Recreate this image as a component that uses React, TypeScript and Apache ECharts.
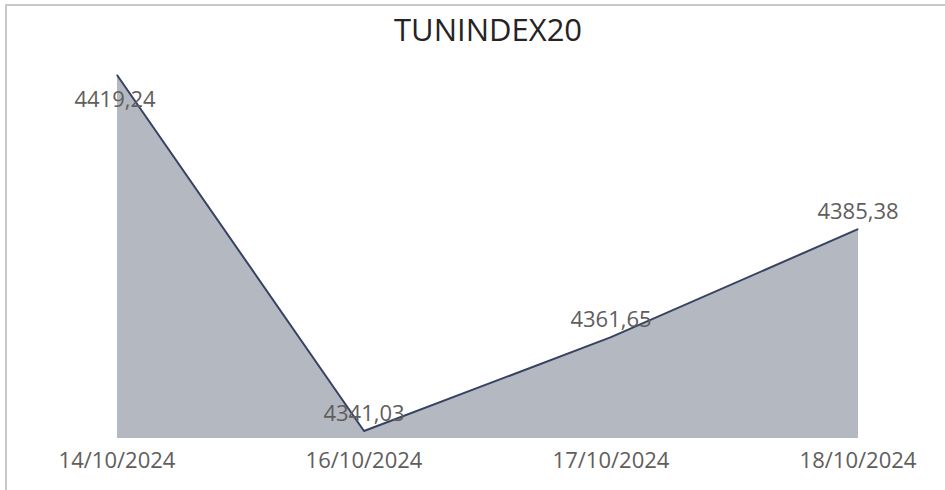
import React, { useEffect, useRef } from "react";
import * as echarts from "echarts";

const categories = ["14/10/2024", "16/10/2024", "17/10/2024", "18/10/2024"];
const values = [4419.24, 4341.03, 4361.65, 4385.38];
const labelPositions = ["bottom", "top", "top", "top"];

const fmt = (v: number) => v.toFixed(2).replace(".", ",");

export default function App() {
  const ref = useRef<HTMLDivElement>(null);
  useEffect(() => {
    if (!ref.current) return;
    const chart = echarts.init(ref.current, null, { renderer: "svg" });
    const font = "'Open Sans', 'Noto Sans', sans-serif";
    chart.setOption({
      animation: false,
      backgroundColor: "#ffffff",
      title: {
        text: "TUNINDEX20",
        left: 389,
        top: 8,
        textStyle: { fontFamily: font, fontSize: 31, fontWeight: "normal", color: "#252423" },
      },
      graphic: [
        { type: "line", shape: { x1: 5, y1: 5, x2: 945, y2: 5 }, style: { stroke: "#c8c8c8", lineWidth: 2 } },
        { type: "line", shape: { x1: 6, y1: 4, x2: 6, y2: 490 }, style: { stroke: "#c8c8c8", lineWidth: 2 } },
      ],
      grid: { left: 117, right: 87, top: 75, bottom: 52 },
      xAxis: {
        type: "category",
        data: categories,
        boundaryGap: false,
        axisLine: { show: false },
        axisTick: { show: false },
        axisLabel: { fontFamily: font, fontSize: 22, color: "#605e5c", margin: 10 },
      },
      yAxis: {
        type: "value",
        min: 4339.5,
        max: 4419.24,
        show: false,
        splitLine: { show: false },
      },
      series: [
        {
          type: "line",
          data: values.map((v, i) => ({
            value: v,
            label: {
              position: labelPositions[i],
              distance: i === 0 ? 11 : 8,
              offset: i === 0 ? [-2, 0] : [0, 0],
            },
          })),
          symbol: "circle",
          symbolSize: 1,
          showSymbol: true,
          itemStyle: { color: "#374262" },
          lineStyle: { color: "#374262", width: 2 },
          areaStyle: { color: "#b4b8c1", opacity: 1, origin: "start" },
          label: {
            show: true,
            fontFamily: font,
            fontSize: 22,
            color: "#605e5c",
            formatter: (p: any) => fmt(p.value),
          },
        },
      ],
    });
    return () => chart.dispose();
  }, []);
  return <div ref={ref} style={{ position: "fixed", left: 0, top: 0, width: 945, height: 490 }} />;
}
